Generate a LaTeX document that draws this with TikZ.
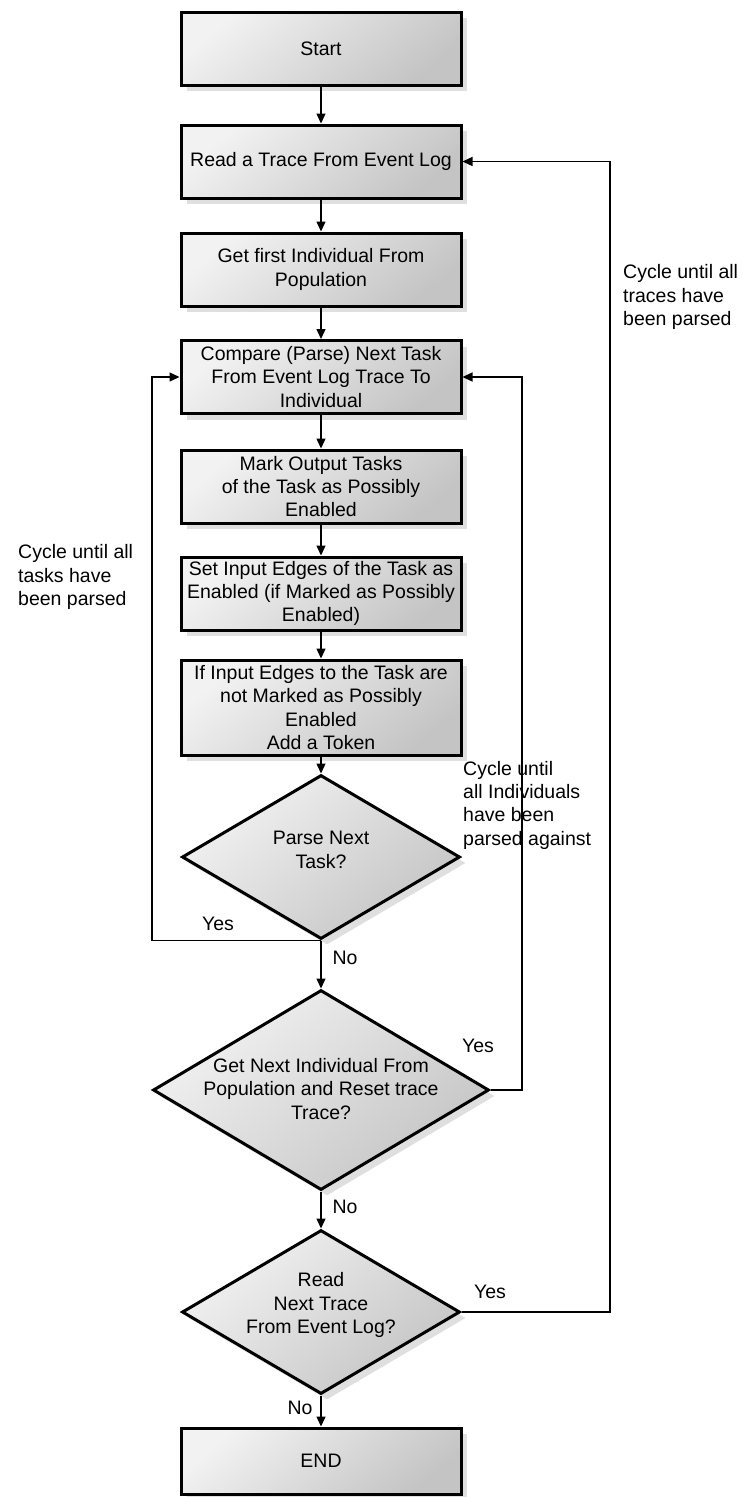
\documentclass[tikz,border=0pt]{standalone}
\usepackage{fontspec}
\setmainfont{Liberation Sans}
\usetikzlibrary{shapes.geometric,arrows.meta,shadows}

\begin{document}
\begin{tikzpicture}[x=1pt,y=-1pt,
  every node/.style={font=\fontsize{19.5}{23.3}\selectfont},
  fillgrad/.style={top color=gray!10, bottom color=gray!46, shading angle=40},
  shadowed/.style={drop shadow={shadow xshift=6pt, shadow yshift=-6pt, fill=gray!25, opacity=1}},
  procbox/.style={draw, line width=3pt, fillgrad, shadowed, minimum width=280,
    minimum height=73, align=center, inner sep=2pt},
  decision/.style={draw, line width=3pt, fillgrad, shadowed, shape=diamond,
    minimum width=278, minimum height=164, inner sep=0pt},
  dtext/.style={align=center, inner sep=0pt},
  note/.style={align=left, inner sep=0pt, anchor=west},
  tag/.style={inner sep=0pt},
  conn/.style={line width=1.3pt, -{Triangle[length=10pt,width=9pt]}},
]
\useasboundingbox (0,0) rectangle (742,1497);

% main column
\node[procbox] (start) at (321,48.5) {Start};
\node[procbox] (read) at (321,161.5) {Read a Trace From Event Log};
\node[procbox] (first) at (321,269.5) {Get first Individual From\\Population};
\node[procbox] (compare) at (321,377) {Compare (Parse) Next Task\\From Event Log Trace To\\Individual};
\node[procbox] (mark) at (321,486.5) {Mark Output Tasks\\of the Task as Possibly\\Enabled};
\node[procbox] (setin) at (321,593.5) {Set Input Edges of the Task as\\Enabled (if Marked as Possibly\\Enabled)};
\node[procbox, minimum height=95] (token) at (321,707.5) {If Input Edges to the Task are\\not Marked as Possibly\\Enabled\\Add a Token};

% decisions
\node[decision] (d1) at (321,857) {};
\node[dtext] (d1t) at (321,850) {Parse Next\\Task?};
\node[decision, minimum width=336, minimum height=200] (d2) at (321,1090) {};
\node[dtext] (d2t) at (321,1089) {Get Next Individual From\\Population and Reset trace\\Trace?};
\node[decision] (d3) at (321,1312) {};
\node[dtext] (d3t) at (321,1305) {Read\\Next Trace\\From Event Log?};

\node[procbox, minimum height=66] (finish) at (321,1461) {END};

% straight flow
\draw[conn] (start) -- (read);
\draw[conn] (read) -- (first);
\draw[conn] (first) -- (compare);
\draw[conn] (compare) -- (mark);
\draw[conn] (mark) -- (setin);
\draw[conn] (setin) -- (token);
\draw[conn] (token) -- (d1);
\draw[conn] (d1.south) -- (d2.north);
\draw[conn] (d2.south) -- (d3.north);
\draw[conn] (d3.south) -- (finish);

% loop-back connectors
\coordinate (lx) at (152,0);
\coordinate (rx1) at (522,0);
\coordinate (rx2) at (610,0);
\draw[conn] (d1.south) -- (d1.south -| lx) |- (compare.west);
\draw[conn] (d2.east) -- (d2.east -| rx1) |- (compare.east);
\draw[conn] (d3.east) -- (d3.east -| rx2) |- (read.east);

% branch labels
\node[tag] (y1) at (218,924) {Yes};
\node[tag] (n1) at (345,958) {No};
\node[tag] (y2) at (478,1046) {Yes};
\node[tag] (n2) at (345,1207) {No};
\node[tag] (y3) at (490,1292) {Yes};
\node[tag] (n3) at (300,1408) {No};

% loop notes
\node[note] (c1) at (18,577) {Cycle until all\\tasks have\\been parsed};
\node[note] (c2) at (463,805) {Cycle until\\all Individuals\\have been\\parsed against};
\node[note] (c3) at (623,297) {Cycle until all\\traces have\\been parsed};
\end{tikzpicture}
\end{document}
